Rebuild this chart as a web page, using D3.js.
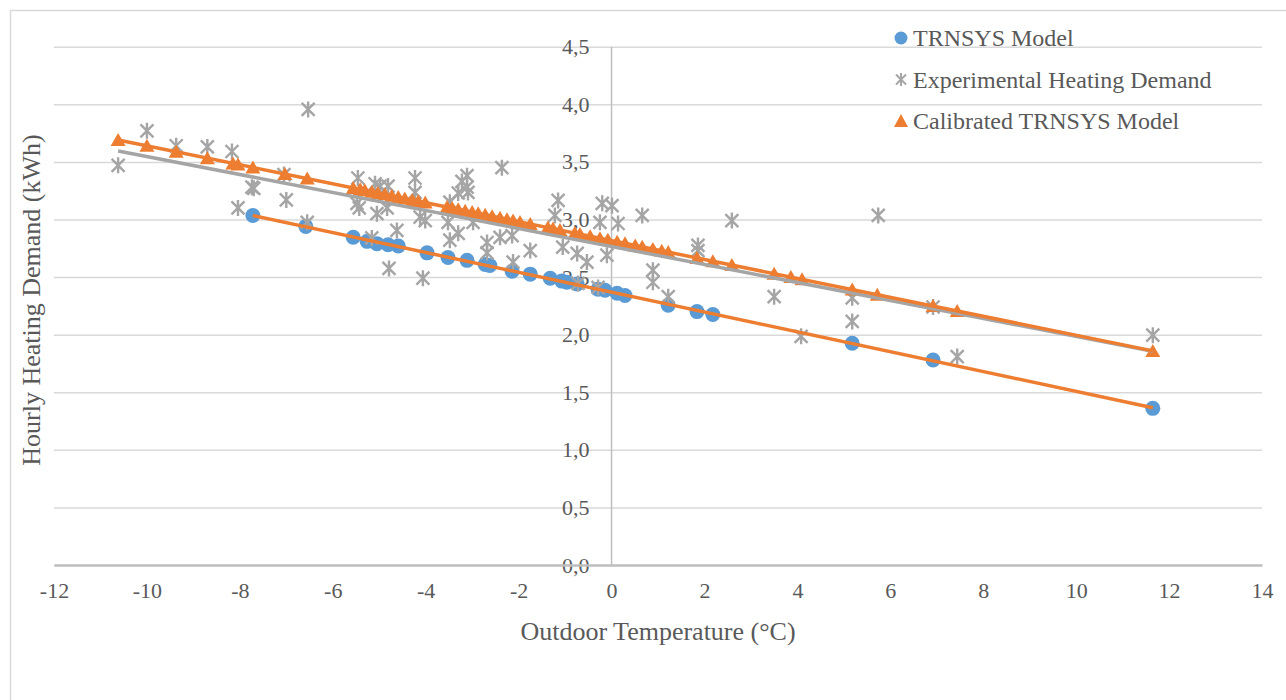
<!DOCTYPE html>
<html>
<head>
<meta charset="utf-8">
<script src="https://cdn.jsdelivr.net/npm/d3@7"></script>
<style>
  body { margin: 0; background: #fff; }
  svg text { font-family: "Liberation Serif", "Times New Roman", serif; fill: #595959; }
</style>
</head>
<body>
<svg width="1286" height="700"></svg>
<script>
// TRNSYS Model (blue circles)
var modelTemp = [-7.72, -6.58, -5.56, -5.26, -5.05, -4.81, -4.59, -3.97, -3.52, -3.11, -2.72, -2.62,
  -2.14, -1.75, -1.32, -1.07, -0.96, -0.74, -0.29, -0.14, 0.12, 0.29, 1.22, 1.84, 2.18, 5.18, 6.92, 11.65];
var modelDemand = [3.035, 2.94, 2.845, 2.81, 2.79, 2.78, 2.77, 2.71, 2.67, 2.645, 2.61, 2.60,
  2.55, 2.525, 2.49, 2.465, 2.455, 2.44, 2.395, 2.385, 2.36, 2.34, 2.255, 2.20, 2.175, 1.925, 1.78, 1.36];

// Experimental Heating Demand (grey stars)
var expTemp = [-10.62, -10.00, -9.37, -8.70, -8.17, -8.04, -7.74, -7.70, -7.05, -7.00, -6.53, -6.55,
  -5.46, -5.48, -5.43, -5.16, -5.09, -5.05, -4.98, -4.81, -4.83, -4.79, -4.62, -4.23, -4.23, -4.12,
  -4.01, -4.06, -3.52, -3.48, -3.48, -3.30, -3.30, -3.22, -3.11, -3.11, -3.09, -2.98, -2.68, -2.68,
  -2.36, -2.40, -2.14, -2.12, -1.75, -1.15, -1.22, -1.05, -0.74, -0.53, -0.72, -0.20, 0.01, -0.25,
  0.14, -0.10, -0.29, 0.66, 0.89, 0.89, 1.22, 1.86, 1.86, 2.59, 3.50, 4.08, 5.18, 5.18, 5.74, 6.92,
  7.44, 11.65];
var expDemand = [3.47, 3.77, 3.64, 3.63, 3.59, 3.10, 3.28, 3.27, 3.39, 3.17, 3.955, 2.975,
  3.36, 3.14, 3.10, 2.84, 3.31, 3.05, 3.29, 3.29, 3.10, 2.575, 2.905, 3.36, 3.235, 3.02,
  2.99, 2.49, 2.975, 3.15, 2.82, 2.88, 3.23, 3.33, 3.38, 3.28, 3.235, 2.975, 2.80, 2.71,
  3.45, 2.845, 2.86, 2.63, 2.73, 3.165, 3.035, 2.76, 2.705, 2.63, 2.445, 3.14, 3.12, 2.975,
  2.965, 2.69, 2.41, 3.035, 2.56, 2.455, 2.33, 2.775, 2.73, 2.99, 2.33, 1.985, 2.32, 2.115, 3.035, 2.24,
  1.81, 1.995];

// Calibrated TRNSYS Model (orange triangles)
var calTemp = [-10.62, -10.00, -9.37, -8.70, -8.15, -8.04, -7.72, -7.03, -6.55, -5.56, -5.41, -5.31,
  -5.16, -5.03, -4.88, -4.73, -4.59, -4.45, -4.29, -4.16, -4.01, -3.54, -3.43, -3.30, -3.15, -3.00,
  -2.87, -2.72, -2.57, -2.40, -2.25, -2.12, -1.97, -1.75, -1.37, -1.26, -1.11, -0.79, -0.68, -0.46,
  -0.25, -0.08, 0.12, 0.29, 0.51, 0.66, 0.89, 1.08, 1.22, 1.84, 2.18, 2.59, 3.50, 3.86, 4.10, 5.18,
  5.72, 6.92, 7.44, 11.65];
var calDemand = [3.69, 3.639, 3.587, 3.532, 3.487, 3.478, 3.452, 3.395, 3.355, 3.274, 3.262, 3.254,
  3.241, 3.230, 3.218, 3.206, 3.194, 3.183, 3.170, 3.159, 3.147, 3.108, 3.099, 3.088, 3.076, 3.064,
  3.053, 3.041, 3.028, 3.014, 3.002, 2.991, 2.979, 2.961, 2.930, 2.921, 2.908, 2.882, 2.873, 2.855,
  2.838, 2.824, 2.807, 2.793, 2.775, 2.763, 2.744, 2.728, 2.717, 2.666, 2.638, 2.604, 2.529, 2.500, 2.480, 2.391,
  2.347, 2.248, 2.205, 1.859];

var xTicks = [-12, -10, -8, -6, -4, -2, 0, 2, 4, 6, 8, 10, 12, 14];
var yTicks = [0, 0.5, 1, 1.5, 2, 2.5, 3, 3.5, 4, 4.5];
var legendNames = ["TRNSYS Model", "Experimental Heating Demand", "Calibrated TRNSYS Model"];

var blue = "#5b9bd5", grey = "#a5a5a5", orange = "#ed7d31";
var serif = "'Liberation Serif', 'Times New Roman', serif";

var svg = d3.select("svg");

// chart frame (only left/top visible in the crop)
svg.append("line").attr("x1", 10).attr("y1", 10.5).attr("x2", 1286).attr("y2", 10.5)
  .attr("stroke", "#d9d9d9").attr("stroke-width", 1.5);
svg.append("line").attr("x1", 10.5).attr("y1", 10).attr("x2", 10.5).attr("y2", 700)
  .attr("stroke", "#d9d9d9").attr("stroke-width", 1.5);

var x = d3.scaleLinear().domain([-12, 14]).range([54, 1262]);
var y = d3.scaleLinear().domain([0, 4.5]).range([565, 46.7]);
var fmtY = function(d) { return d3.format(".1f")(d).replace(".", ","); };
var fmtX = function(d) { return String(d); };

// horizontal gridlines
svg.append("g")
  .attr("transform", "translate(54,0)")
  .call(d3.axisLeft(y).tickValues(yTicks).tickSize(-(1262 - 54)).tickFormat(""))
  .call(function(g) {
    g.select(".domain").remove();
    g.selectAll("line").attr("stroke", "#d9d9d9").attr("stroke-width", 1.5);
  });

// vertical axis at x = 0
svg.append("line")
  .attr("x1", x(0)).attr("x2", x(0)).attr("y1", y(0)).attr("y2", y(4.5))
  .attr("stroke", "#bfbfbf").attr("stroke-width", 1.5);

// y tick labels beside the vertical axis
svg.append("g")
  .attr("transform", "translate(" + x(0) + ",0)")
  .call(d3.axisLeft(y).tickValues(yTicks).tickSize(0).tickPadding(22).tickFormat(fmtY))
  .call(function(g) {
    g.select(".domain").remove();
    g.attr("font-family", null).attr("font-size", null);
    g.selectAll("text").style("font-size", "22px").style("font-family", serif)
      .attr("fill", "#595959");
  });

// x axis
svg.append("g")
  .attr("transform", "translate(0," + y(0) + ")")
  .call(d3.axisBottom(x).tickValues(xTicks).tickSize(0).tickPadding(17).tickFormat(fmtX))
  .call(function(g) {
    g.select(".domain").attr("stroke", "#bfbfbf").attr("stroke-width", 2.5);
    g.attr("font-family", null).attr("font-size", null);
    g.selectAll("text").style("font-size", "22px").style("font-family", serif)
      .attr("fill", "#595959");
  });

// axis titles
svg.append("text")
  .attr("x", 658).attr("y", 640)
  .attr("text-anchor", "middle").attr("font-size", 26)
  .text("Outdoor Temperature (°C)");
svg.append("text")
  .attr("transform", "translate(40,300) rotate(-90)")
  .attr("text-anchor", "middle").attr("font-size", 26)
  .text("Hourly Heating Demand (kWh)");

var zip = function(xs, ys) { return xs.map(function(v, i) { return [v, ys[i]]; }); };
var modelPts = zip(modelTemp, modelDemand);
var expPts = zip(expTemp, expDemand);
var calPts = zip(calTemp, calDemand);

var starPath = "M-6.5,-6.5L6.5,6.5M-6.5,6.5L6.5,-6.5M0,-8L0,8";
var triPath = "M0,-7L7.5,6L-7.5,6Z";

svg.append("g").selectAll("circle").data(modelPts).enter().append("circle")
  .attr("cx", function(d) { return x(d[0]); })
  .attr("cy", function(d) { return y(d[1]); })
  .attr("r", 7.5).attr("fill", blue);

svg.append("g").selectAll("path").data(expPts).enter().append("path")
  .attr("d", starPath)
  .attr("transform", function(d) { return "translate(" + x(d[0]) + "," + y(d[1]) + ")"; })
  .attr("stroke", grey).attr("stroke-width", 2.4).attr("fill", "none");

svg.append("g").selectAll("path").data(calPts).enter().append("path")
  .attr("d", triPath)
  .attr("transform", function(d) { return "translate(" + x(d[0]) + "," + y(d[1]) + ")"; })
  .attr("fill", orange);

// linear trendlines
var trend = function(pts) {
  var mx = d3.mean(pts, function(d) { return d[0]; });
  var my = d3.mean(pts, function(d) { return d[1]; });
  var sxy = d3.sum(pts, function(d) { return (d[0] - mx) * (d[1] - my); });
  var sxx = d3.sum(pts, function(d) { return (d[0] - mx) * (d[0] - mx); });
  var b = sxy / sxx, a = my - b * mx;
  var ext = d3.extent(pts, function(d) { return d[0]; });
  return ext.map(function(v) { return [v, a + b * v]; });
};
var line = d3.line().x(function(d) { return x(d[0]); }).y(function(d) { return y(d[1]); });

svg.append("path").attr("d", line(trend(modelPts)))
  .attr("stroke", orange).attr("stroke-width", 3.5).attr("fill", "none");
svg.append("path").attr("d", line(trend(expPts)))
  .attr("stroke", grey).attr("stroke-width", 3.5).attr("fill", "none");
svg.append("path").attr("d", line(trend(calPts)))
  .attr("stroke", orange).attr("stroke-width", 3.5).attr("fill", "none");

// legend
var legend = svg.append("g").attr("transform", "translate(901,38)");
var rows = legend.selectAll("g").data(legendNames).enter().append("g")
  .attr("transform", function(d, i) { return "translate(0," + (i * 41.5) + ")"; });
rows.each(function(d, i) {
  var r = d3.select(this);
  if (i === 0) r.append("circle").attr("r", 6.5).attr("fill", blue);
  if (i === 1) r.append("path").attr("d", "M-5,-5L5,5M-5,5L5,-5M0,-6.5L0,6.5")
    .attr("stroke", grey).attr("stroke-width", 2).attr("fill", "none");
  if (i === 2) r.append("path").attr("d", "M0,-7L7,6L-7,6Z").attr("fill", orange);
  r.append("text").attr("x", 12).attr("y", 8).attr("font-size", 24).text(d);
});
</script>
</body>
</html>
